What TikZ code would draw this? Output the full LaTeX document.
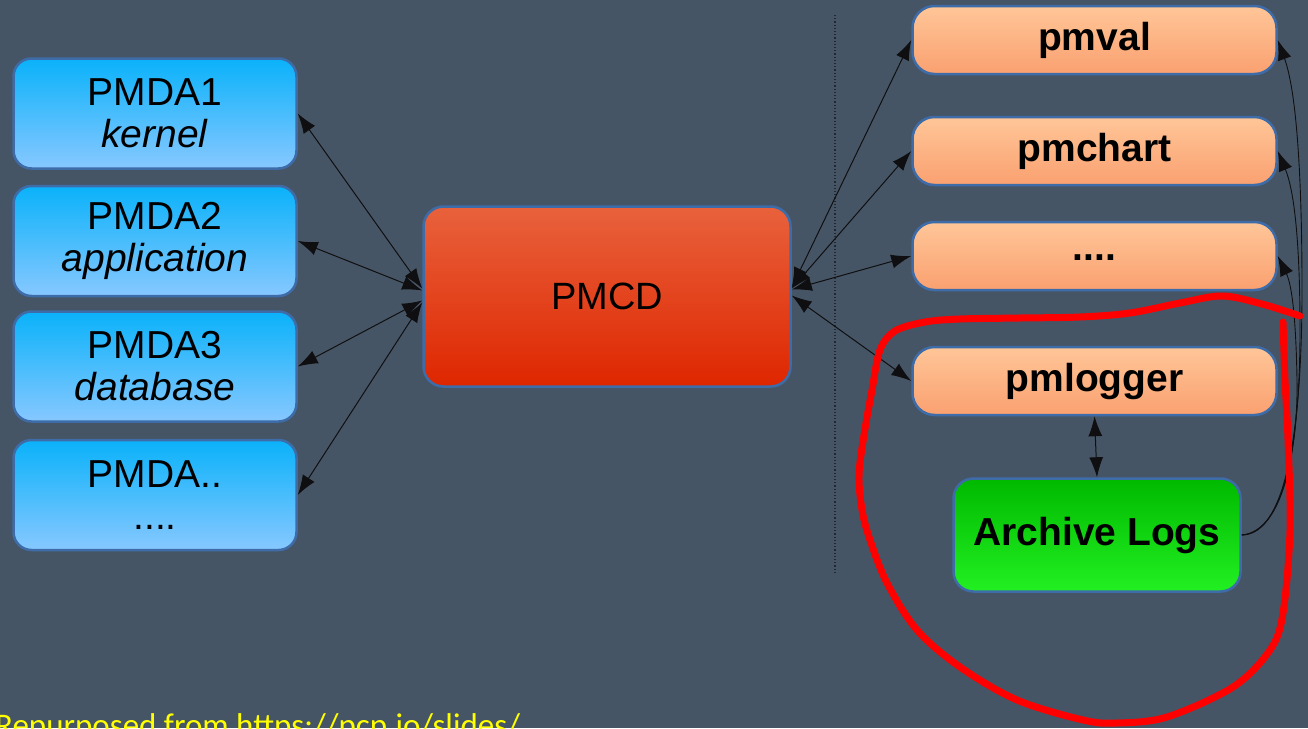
\documentclass[tikz,border=0pt]{standalone}
\usepackage{fontspec}
\setmainfont{Liberation Sans}
\newfontfamily\notefont{Carlito}
\usetikzlibrary{arrows.meta}

\definecolor{bg}{RGB}{70,85,101}
\definecolor{edge}{RGB}{62,108,168}
\definecolor{pmdatop}{RGB}{10,178,250}
\definecolor{pmdabot}{RGB}{135,200,255}
\definecolor{tooltop}{RGB}{255,198,152}
\definecolor{toolbot}{RGB}{250,160,112}
\definecolor{pmcdtop}{RGB}{232,98,60}
\definecolor{pmcdbot}{RGB}{222,38,0}
\definecolor{archtop}{RGB}{0,185,0}
\definecolor{archbot}{RGB}{34,240,34}
\definecolor{wire}{RGB}{15,15,18}
\definecolor{scribble}{RGB}{255,0,0}
\definecolor{note}{RGB}{255,255,0}

\begin{document}
\begin{tikzpicture}[x=1pt,y=-1pt,
  box/.style={draw=edge, line width=2.5pt, rounded corners=18pt, inner sep=0pt,
    align=center, text=black},
  pmda/.style={box, minimum width=283pt, minimum height=110pt,
    top color=pmdatop, bottom color=pmdabot, font=\fontsize{39}{42}\selectfont},
  tool/.style={box, minimum width=364pt, minimum height=68pt, rounded corners=22pt,
    top color=tooltop, bottom color=toolbot, font=\fontsize{39}{42}\selectfont\bfseries},
  link/.style={line width=1pt, draw=wire,
    {Latex[length=20pt,width=14pt]}-{Latex[length=20pt,width=14pt]}},
  feed/.style={line width=0.9pt, draw=wire, -{Latex[length=20pt,width=14pt]}},
]
% canvas
\fill[bg] (0,0) rectangle (1308,728);
\useasboundingbox (0,0) rectangle (1308,728);
\clip (0,0) rectangle (1308,728);

% agents
\node[pmda] (pmda1) at (155,113.5) {PMDA1\\\textit{kernel}};
\node[pmda] (pmda2) at (155,241)   {PMDA2\\\textit{application}};
\node[pmda] (pmda3) at (155,366.5) {PMDA3\\\textit{database}};
\node[pmda] (pmda4) at (155,495)   {PMDA..\\....};

% collector daemon
\node[box, minimum width=367pt, minimum height=180pt, rounded corners=20pt,
  top color=pmcdtop, bottom color=pmcdbot, font=\fontsize{38}{42}\selectfont]
  (pmcd) at (607,296.5) {PMCD};

% separator
\coordinate (sepTop) at (835,15);
\coordinate (sepBot) at (835,572);
\draw[dotted, line width=1.2pt, draw={rgb,255:red,35;green,40;blue,48}] (sepTop) -- (sepBot);

% client tools
\node[tool] (pmval)   at (1094.5,40)  {\raisebox{-3pt}{pmval}};
\node[tool] (pmchart) at (1094.5,151) {\raisebox{-2pt}{pmchart}};
\node[tool] (more)    at (1094.5,256) {\raisebox{-8pt}{....}};
\node[tool] (pmlog)   at (1094.5,381) {\raisebox{-2pt}{pmlogger}};

% archive
\node[box, minimum width=287pt, minimum height=113pt, rounded corners=20pt,
  top color=archtop, bottom color=archbot, font=\fontsize{39}{42}\selectfont\bfseries]
  (arch) at (1097,535) {Archive Logs};

% agent links
\draw[link] ([yshift=8pt]pmcd.west)  -- (pmda1.east);
\draw[link] ([yshift=6pt]pmcd.west)  -- (pmda2.east);
\draw[link] ([yshift=-4pt]pmcd.west) -- (pmda3.east);
\draw[link] ([yshift=-6pt]pmcd.west) -- (pmda4.east);

% tool links
\draw[link] ([yshift=9pt]pmcd.east) -- (pmval.west);
\draw[link] ([yshift=8pt]pmcd.east) -- (pmchart.west);
\draw[link] ([yshift=7pt]pmcd.east) -- (more.west);
\draw[link] ([yshift=1pt]pmcd.east) -- (pmlog.west);
\draw[link] (pmlog.south) -- (arch.north);

% archive replay into the tools
\draw[feed] (arch.east) .. controls (1288,535) and (1302,420) .. (1302,290)
  .. controls (1302,170) and (1296,90) .. (pmval.east);
\draw[feed] (arch.east) .. controls (1288,533) and (1300,430) .. (1300,330)
  .. controls (1300,240) and (1294,190) .. (pmchart.east);
\draw[feed] (arch.east) .. controls (1286,531) and (1298,440) .. (1297,380)
  .. controls (1296,320) and (1292,285) .. (more.east);

% hand-drawn highlight
\draw[draw=scribble, line width=7pt, line cap=round, line join=round]
  plot[smooth, tension=0.55] coordinates {
    (1300,316) (1262,304) (1222,296) (1180,303) (1130,313) (1080,317)
    (1020,318) (960,319) (925,322) (895,331) (880,350) (872,390)
    (864,435) (859,475) (862,510) (870,540) (887,583) (917,630)
    (960,667) (1017,700) (1083,720) (1117,723) (1167,717) (1233,687)
    (1270,650) (1283,613) (1290,530) (1288,440) (1285,380) (1283,322)};

% source note
\node[anchor=base west, inner sep=0pt, text=note, font=\notefont\fontsize{33}{36}\selectfont]
  (src) at (-5,736) {Repurposed from https://pcp.io/slides/};
\end{tikzpicture}
\end{document}
